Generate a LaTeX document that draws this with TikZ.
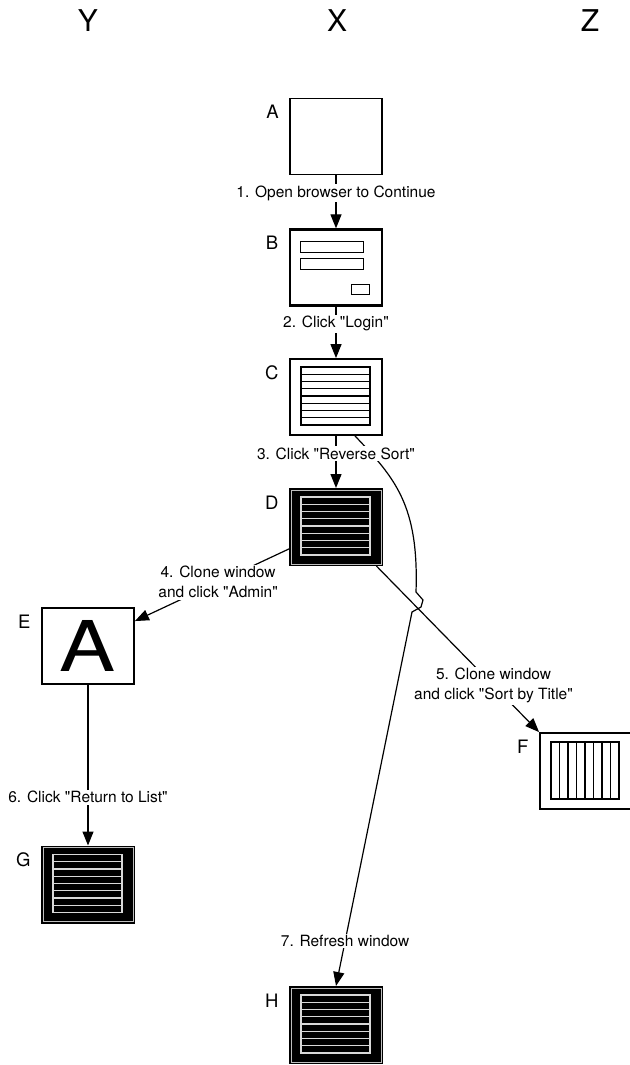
\documentclass[tikz,border=0pt]{standalone}
\usepackage{fontspec}
\setmainfont{TeX Gyre Heros}[Ligatures=TeXOff]
\usetikzlibrary{arrows.meta,calc}

\tikzset{
  screen/.style={draw, fill=white, line width=1.8pt, minimum width=92pt, minimum height=76pt, inner sep=0pt},
  blackscreen/.style={screen, fill=black, line width=1pt, minimum width=93pt, minimum height=77pt},
  letter/.style={font=\fontsize{18.5}{18.5}\selectfont, inner sep=0pt, anchor=north east},
  column/.style={font=\fontsize{30}{30}\selectfont, anchor=base},
  action/.style={fill=white, inner sep=1.5pt, font=\fontsize{15.5}{20}\selectfont, align=center}
}

% list of 8 rows inside a screen
\newcommand{\rowlist}[2]{%
  \draw[#2, line width=1.2pt] ($(#1.center)+(-35,-30)$) rectangle ($(#1.center)+(34,28)$);
  \foreach \r in {1,...,7}
    \draw[#2, line width=1.2pt] ($(#1.center)+(-35,-30+7.25*\r)$) -- ($(#1.center)+(34,-30+7.25*\r)$);
}

\begin{document}
\begin{tikzpicture}[x=1pt, y=-1pt, >={Triangle[length=14pt,width=11pt]}, line width=1.2pt]
\useasboundingbox (0,0) rectangle (629,1065);

\node[column] (coly) at (88,32) {Y};
\node[column] (colx) at (337,32) {X};
\node[column] (colz) at (590,32) {Z};

\node[screen, line width=1.3pt] (A) at (336,136.5) {};
\node[screen, line width=2.3pt] (B) at (336,267.5) {};
\node[screen] (C) at (336,397) {};
\node[blackscreen] (D) at (336,527) {};
\node[screen] (E) at (88,646) {\fontsize{70}{70}\selectfont\scalebox{1.2}[1]{A}};
\node[screen] (F) at (586,771) {};
\node[blackscreen] (G) at (88,884.5) {};
\node[blackscreen] (H) at (336,1025) {};

\foreach \s in {A,...,H}
  \node[letter] (lab\s) at ($(\s.north west)+(-10,7)$) {\s};

% login form
\draw[line width=1pt] ($(B.center)+(-36,-26.5)$) rectangle ($(B.center)+(27,-15.5)$);
\draw[line width=1pt] ($(B.center)+(-36,-9.5)$) rectangle ($(B.center)+(27,1.5)$);
\draw[line width=1pt] ($(B.center)+(15,16.5)$) rectangle ($(B.center)+(33,26.5)$);

\foreach \s in {D,G,H}
  \draw[white!75!black, line width=0.8pt] ($(\s.north west)+(2,2)$) rectangle ($(\s.south east)+(-2,-2)$);
\rowlist{C}{black}
\rowlist{D}{white!85!black}
\rowlist{G}{white!85!black}
\rowlist{H}{white!85!black}

% columns sorted by title
\draw ($(F.center)+(-35,-29)$) rectangle ($(F.center)+(33,28)$);
\foreach \c in {1,...,7}
  \draw ($(F.center)+(-35+8.5*\c,-29)$) -- ($(F.center)+(-35+8.5*\c,28)$);

\draw[->] (C.296) .. controls (395,478) and (419,505) .. (416,592) -- (423,600) -- (421,607) -- (412,612)
  -- node[action, pos=0.88] {7. Refresh window} (H.north);
\draw[->] (A) -- node[action, pos=0.34] {1. Open browser to Continue} (B);
\draw[->] (B) -- node[action, pos=0.33] {2. Click "Login"} (C);
\draw[->] (C) -- node[action, pos=0.34] {3. Click "Reverse Sort"} (D);
\draw[->] (D.205) -- node[action, pos=0.46] {4. Clone window\\and click "Admin"} (E.28);
\draw[->] (D.316) -- node[action, pos=0.72] {5. Clone window\\and click "Sort by Title"} (F.north west);
\draw[->] (E) -- node[action, pos=0.70] {6. Click "Return to List"} (G);
\end{tikzpicture}
\end{document}
